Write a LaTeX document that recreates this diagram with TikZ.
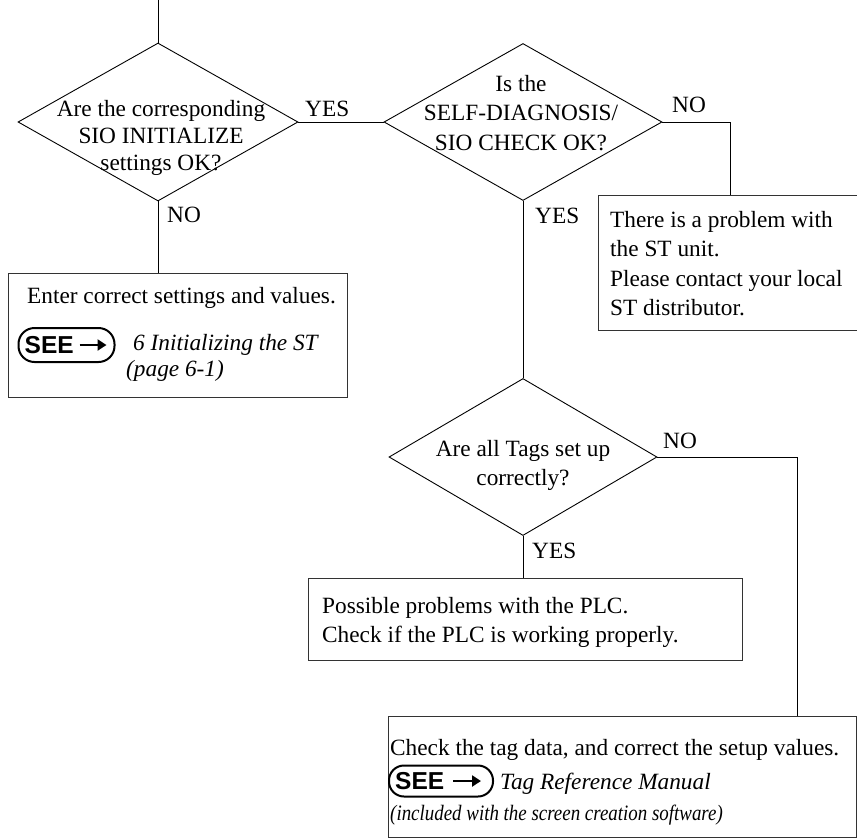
\documentclass[tikz,border=0pt]{standalone}
\usepackage{fontspec}
\setmainfont{Liberation Serif}
\newfontfamily\seefont{Liberation Sans}
\usetikzlibrary{shapes.geometric,arrows.meta}
\begin{document}
\begin{tikzpicture}[x=1pt,y=-1pt,
  dia/.style={draw, shape=diamond, inner sep=0pt, line width=0.9pt},
  box/.style={draw=black!80, line width=1.1pt, rectangle, inner sep=0pt, anchor=north west},
  txt/.style={font=\fontsize{23.3}{29.5}\selectfont, inner sep=0pt},
  lbl/.style={font=\fontsize{23.3}{29.5}\selectfont, inner sep=0pt, anchor=base west},
  ref/.style={font=\fontsize{23.3}{29.5}\selectfont\itshape, inner sep=0pt, anchor=base west},
  seebadge/.style={draw, line width=2pt, rounded corners=16pt, inner sep=0pt},
  seetext/.style={font=\fontsize{24.5}{24.5}\selectfont\seefont\bfseries, inner sep=0pt, anchor=west},
  seearrow/.style={line width=2.6pt, -{Triangle[length=9pt,width=11pt]}},
  conn/.style={line width=0.9pt}
]
\clip (0,0) rectangle (857,839);
\fill[white] (0,0) rectangle (857,839);

% decisions
\node[dia, minimum width=280, minimum height=158] (d1) at (158,122) {};
\node[dia, minimum width=278, minimum height=157] (d2) at (523,122) {};
\node[dia, minimum width=268, minimum height=157] (d3) at (523,457) {};

\node[txt, align=center, anchor=north, font=\fontsize{23.3}{27}\selectfont] (t1) at (161,100) {Are the corresponding\\SIO INITIALIZE\\settings OK?};
\node[txt, align=center, anchor=north] (t2) at (521,75) {Is the\\SELF-DIAGNOSIS/\\SIO CHECK OK?};
\node[txt, align=center, anchor=north] (t3) at (523,440) {Are all Tags set up\\correctly?};

% boxes
\node[box, minimum width=339, minimum height=124] (b1) at (8,273) {};
\node[box, minimum width=275, minimum height=135] (b2) at (598,195) {};
\node[box, minimum width=434, minimum height=82] (b3) at (308,578) {};
\node[box, minimum width=468, minimum height=121] (b4) at (388,716) {};

% box 1 texts
\node[lbl] (b1a) at (27,303) {Enter correct settings and values.};
\node[seebadge, minimum width=96, minimum height=34] (see1) at (66.5,345) {};
\node[seetext] (see1t) at ([xshift=7pt]see1.west) {SEE};
\draw[seearrow] ([xshift=-36pt]see1.east) -- ([xshift=-9pt]see1.east);
\node[ref] (b1b) at (133,350) {6 Initializing the ST};
\node[ref] (b1c) at (126,376) {(page 6-1)};

% box 2 text
\node[txt, align=left, anchor=north west] (b2t) at (610,211) {There is a problem with\\the ST unit.\\Please contact your local\\ST distributor.};

% box 3 text
\node[txt, align=left, anchor=north west] (b3t) at (322,597) {Possible problems with the PLC.\\Check if the PLC is working properly.};

% box 4 texts
\node[lbl] (b4a) at (390,755) {Check the tag data, and correct the setup values.};
\node[seebadge, minimum width=104, minimum height=31, rounded corners=15pt] (see2) at (441,781) {};
\node[seetext] (see2t) at ([xshift=7pt]see2.west) {SEE};
\draw[seearrow] ([xshift=-41pt]see2.east) -- ([xshift=-13pt]see2.east);
\node[ref] (b4b) at (500,789) {Tag Reference Manual};
\node[ref, font=\fontsize{22}{26}\selectfont\itshape] (b4c) at (390,820) {\scalebox{0.86}[1]{(included with the screen creation software)}};

% labels
\node[lbl] (l1) at (305,116) {YES};
\node[lbl] (l2) at (167,222) {NO};
\node[lbl] (l3) at (672,112) {NO};
\node[lbl] (l4) at (535,223) {YES};
\node[lbl] (l5) at (663,448) {NO};
\node[lbl] (l6) at (532,558) {YES};

% connectors
\coordinate (top) at (158,0);
\coordinate (c2) at (730,122);
\coordinate (c3) at (797,457);
\draw[conn] (top) -- (d1.north);
\draw[conn] (d1.east) -- (d2.west);
\draw[conn] (d1.south) -- (d1.south |- b1.north);
\draw[conn] (d2.east) -- (c2) -- (c2 |- b2.north);
\draw[conn] (d2.south) -- (d3.north);
\draw[conn] (d3.east) -- (c3) -- (c3 |- b4.north);
\draw[conn] (d3.south) -- (d3.south |- b3.north);
\end{tikzpicture}
\end{document}
